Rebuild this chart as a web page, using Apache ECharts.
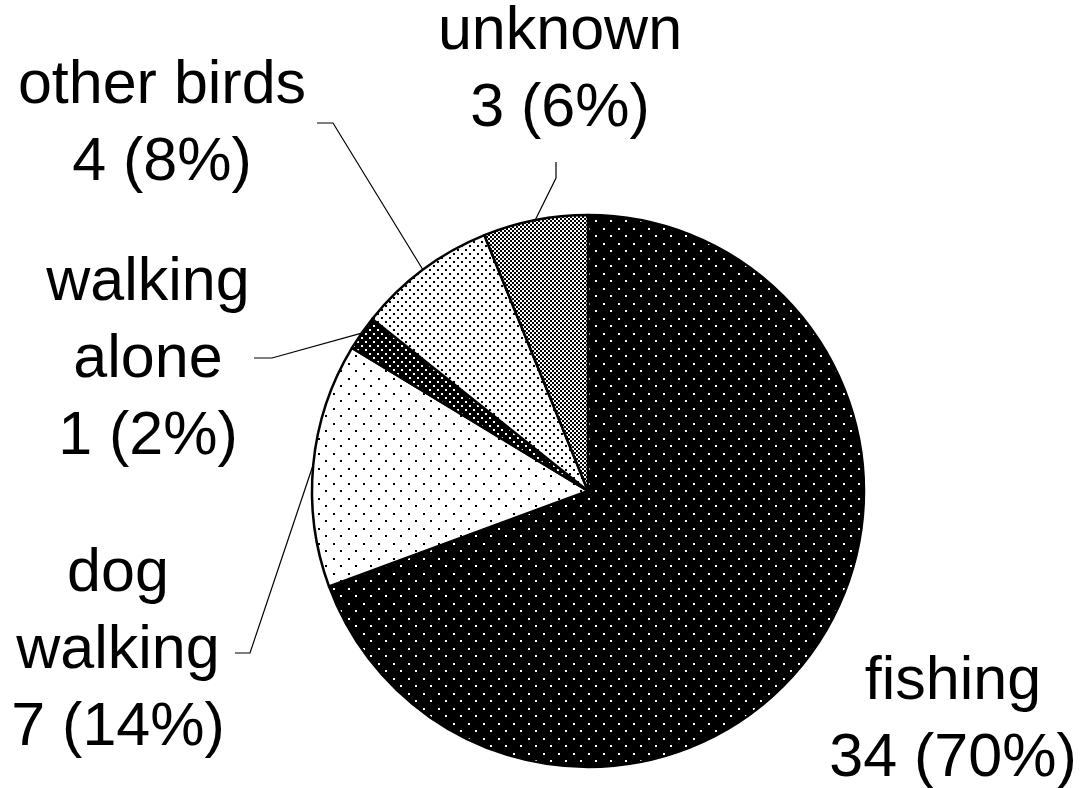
<!DOCTYPE html>
<html>
<head>
<meta charset="utf-8">
<script src="https://cdn.jsdelivr.net/npm/echarts@6/dist/echarts.min.js"></script>
<style>
html,body{margin:0;padding:0;background:#fff;}
#chart{width:1089px;height:788px;}
</style>
</head>
<body>
<div id="chart"></div>
<script>
// ---- data ----
const categories = ['fishing', 'dog walking', 'walking alone', 'other birds', 'unknown'];
const values = [34, 7, 1, 4, 3];
const percentLabels = ['70%', '14%', '2%', '8%', '6%'];
const labelNameLines = [['fishing'], ['dog', 'walking'], ['walking', 'alone'], ['other birds'], ['unknown']];

// ---- pattern fills ----
function dotTile(tile, bg, fg, pts, size) {
  const c = document.createElement('canvas');
  c.width = tile; c.height = tile;
  const g = c.getContext('2d');
  g.fillStyle = bg; g.fillRect(0, 0, tile, tile);
  g.fillStyle = fg;
  pts.forEach(p => g.fillRect(p[0], p[1], size, size));
  return c;
}
function checkTile() {
  const c = document.createElement('canvas');
  c.width = 4; c.height = 4;
  const g = c.getContext('2d');
  g.fillStyle = '#000'; g.fillRect(0, 0, 4, 4);
  g.fillStyle = '#fff';
  g.fillRect(0, 0, 2, 2); g.fillRect(2, 2, 2, 2);
  return c;
}
const patterns = [
  dotTile(15, '#000', '#fff', [[3, 3], [10, 10]], 2),
  dotTile(15, '#fff', '#000', [[3, 3], [10, 10]], 2),
  dotTile(8, '#000', '#fff', [[1, 1], [5, 5]], 2),
  dotTile(8, '#fff', '#000', [[1, 1], [5, 5]], 2),
  checkTile()
];

// ---- label layout (positions of label blocks and leader bends) ----
const labelCenters = [[953, 721], [118, 651], [148, 360], [162, 125], [560, 71]];
const leaderBends = [null, [[250, 653], [235, 653]], [[272, 358], [254, 358]], [[333, 123], [317, 123]], [[556, 178], [556, 162]]];

const seriesData = categories.map((name, i) => ({
  name: name,
  value: values[i],
  itemStyle: { color: { image: patterns[i], repeat: 'repeat' } },
  labelLine: { show: i !== 0 }
}));

const chart = echarts.init(document.getElementById('chart'), null, { renderer: 'canvas' });
chart.setOption({
  animation: false,
  backgroundColor: '#fff',
  series: [{
    type: 'pie',
    center: [588, 491],
    radius: 276,
    startAngle: 90,
    clockwise: true,
    avoidLabelOverlap: false,
    data: seriesData,
    itemStyle: { borderColor: '#000', borderWidth: 2.5 },
    emphasis: { disabled: true },
    label: {
      show: true,
      position: 'outside',
      fontFamily: '"Liberation Sans", Arial, sans-serif',
      fontSize: 61,
      lineHeight: 77,
      color: '#000',
      align: 'center',
      formatter: p => labelNameLines[p.dataIndex].join('\n') + '\n' + p.value + ' (' + percentLabels[p.dataIndex] + ')'
    },
    labelLine: {
      show: true,
      length: 20,
      length2: 20,
      lineStyle: { color: '#000', width: 1.2 }
    },
    labelLayout: function (params) {
      const i = params.dataIndex;
      const out = {
        x: labelCenters[i][0],
        y: labelCenters[i][1],
        align: 'center',
        verticalAlign: 'middle'
      };
      if (leaderBends[i] && params.labelLinePoints) {
        const start = params.labelLinePoints[0];
        out.labelLinePoints = [start, leaderBends[i][0], leaderBends[i][1]];
      }
      return out;
    }
  }]
});
</script>
</body>
</html>
